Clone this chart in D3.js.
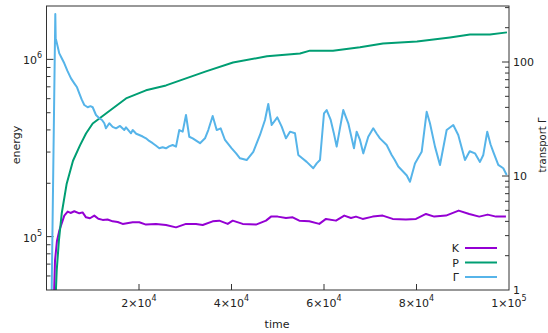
<!DOCTYPE html>
<html>
<head>
<meta charset="utf-8">
<script src="https://cdn.jsdelivr.net/npm/d3@7"></script>
<style>
	body { margin: 0; background: #fff; }
	text { font-family: "DejaVu Sans", Verdana, sans-serif; fill: #222; }
</style>
</head>
<body>
<svg id="chart" width="548" height="333"></svg>
<script>

// series K (kinetic energy), left axis
var kTime = [1405, 1838, 2270, 2767, 3848, 4583, 5200, 6010, 7091, 7800, 8540, 9400,
	10335, 11200, 12150, 13200, 14310, 15400, 16470, 18640, 20060, 21510, 23670,
	25840, 28000, 30160, 32320, 33770, 35930, 37360, 39180, 40260, 42420, 45290,
	47460, 48540, 49990, 51780, 53230, 54660, 56820, 58980, 60430, 62590, 64390,
	65830, 66910, 68360, 70520, 72690, 74850, 77720, 79890, 82050, 83840, 86370,
	89120, 91410, 93570, 95390, 97180, 99340];
var kValues = [3.0e4, 7.32e4, 9.49e4, 1.081e5, 1.314e5, 1.384e5, 1.36e5, 1.39e5,
	1.354e5, 1.37e5, 1.285e5, 1.27e5, 1.314e5, 1.26e5, 1.243e5, 1.25e5, 1.22e5,
	1.21e5, 1.18e5, 1.205e5, 1.205e5, 1.169e5, 1.18e5, 1.164e5, 1.128e5, 1.18e5,
	1.18e5, 1.164e5, 1.22e5, 1.231e5, 1.18e5, 1.231e5, 1.18e5, 1.169e5, 1.231e5,
	1.297e5, 1.297e5, 1.275e5, 1.285e5, 1.231e5, 1.22e5, 1.18e5, 1.259e5, 1.231e5,
	1.314e5, 1.275e5, 1.297e5, 1.259e5, 1.297e5, 1.314e5, 1.259e5, 1.248e5, 1.259e5,
	1.343e5, 1.297e5, 1.314e5, 1.402e5, 1.343e5, 1.297e5, 1.331e5, 1.297e5, 1.297e5];

// series P, left axis
var pTime = [1800, 2205, 2700, 3286, 4367, 5730, 7240, 8540, 9990, 12860, 17190,
	21510, 25840, 30160, 34480, 40320, 47670, 54810, 56970, 61940, 67780, 72750,
	80100, 87240, 91560, 95880, 99560];
var pValues = [3.5e4, 6.43e4, 9.6e4, 1.35e5, 1.99e5, 2.68e5, 3.27e5, 3.82e5, 4.35e5,
	4.95e5, 6.02e5, 6.69e5, 7.13e5, 7.81e5, 8.56e5, 9.61e5, 1.04e6, 1.08e6, 1.12e6,
	1.12e6, 1.17e6, 1.23e6, 1.26e6, 1.33e6, 1.38e6, 1.38e6, 1.42e6];

// series Gamma (transport), right axis
var gTime = [1124, 1903, 1989, 2767, 3300, 3848, 4500, 5297, 6010, 6600, 7091,
	7600, 8172, 8907, 9500, 9988, 10700, 11420, 12000, 12500, 12860, 13580, 14300,
	15030, 15900, 16820, 17190, 18270, 18640, 19400, 20060, 20800, 21510, 22200,
	22960, 23700, 24390, 25100, 25840, 26500, 27280, 28000, 28710, 29450, 30160,
	30870, 31610, 32690, 33190, 34270, 34980, 35930, 36800, 37660, 38590, 40040,
	41000, 41840, 43280, 44710, 46160, 47240, 47950, 48690, 49900, 50850, 51780,
	52650, 53730, 54440, 55300, 56260, 57680, 58420, 59130, 60000, 60580, 61450,
	62100, 62740, 63500, 64170, 65250, 66480, 67060, 67780, 68490, 69570, 70650,
	71400, 72100, 73550, 74630, 75300, 76060, 77140, 77900, 78590, 79670, 81120,
	82200, 82910, 84000, 85080, 86520, 87950, 89030, 89800, 90480, 91500, 92640,
	93720, 94440, 95300, 96000, 96600, 97680, 98760, 99500];
var gValues = [1, 264, 162, 119, 108, 97.4, 84, 71.9, 65.0, 60, 53.1,
	47, 42.0, 40.1, 41, 40.1, 34.3, 32.1, 31, 29.0, 26.2, 29.0, 27,
	26.2, 27.5, 25.3, 26.7, 23.7, 25.3, 23.5, 22.9, 22.2, 21.4, 20.3,
	19.4, 18.4, 17.5, 17.9, 17.5, 18.2, 18.7, 18.1, 25.3, 24.5, 34.3,
	22.1, 21.4, 20.0, 19.4, 21.4, 25.3, 33.6, 25.3, 26.2, 20.7, 17.5,
	15.8, 14.3, 13.8, 16.3, 22.9, 31.0, 42.8, 28.0, 32.7, 27.1, 21.4,
	24.5, 23.7, 15.3, 14.3, 13.3, 11.7, 12.9, 13.8, 35.5, 37.9, 31.0,
	24, 18.1, 27, 37.9, 29.0, 17.5, 24.5, 20.7, 15.8, 22.1, 26.2,
	23.5, 21.4, 18.7, 15.3, 13.8, 12.1, 10.9, 10.1, 8.9, 12.9, 16.3,
	36.6, 29.0, 18.1, 12.5, 25.3, 28.0, 22.9, 17.5, 13.8, 16.5, 15.8,
	13.3, 15.3, 24.5, 19, 16.3, 12.5, 11.7, 10.2];

var xTicks = [2e4, 4e4, 6e4, 8e4, 1e5];
var xTickLabels = [["2×10", "4"], ["4×10", "4"], ["6×10", "4"], ["8×10", "4"], ["1×10", "5"]];
var yTicks = [1e5, 1e6];
var yTickLabels = [["10", "5"], ["10", "6"]];
var y2Ticks = [1, 10, 100];
var y2TickLabels = ["1", "10", "100"];

var seriesNames = ["K", "P", "Γ"];
var seriesColours = ["#9400d3", "#009e73", "#56b4e9"];

var LEFT = 46.5, RIGHT = 509, TOP = 6, BOTTOM = 290;

var svg = d3.select("#chart");

var x = d3.scaleLinear().domain([0, 1e5]).range([LEFT, RIGHT]);
var y = d3.scaleLog().domain([5e4, 2e6]).range([BOTTOM, TOP]);
var y2 = d3.scaleLog().domain([1, 310]).range([BOTTOM, TOP]);

svg.append("clipPath").attr("id", "plotClip")
	.append("rect")
	.attr("x", LEFT).attr("y", TOP)
	.attr("width", RIGHT - LEFT).attr("height", BOTTOM - TOP);

// minor ticks for the log axes
function logTicks(lo, hi) {
	var out = [];
	for (var e = Math.floor(Math.log10(lo)); e <= Math.ceil(Math.log10(hi)); e++) {
		for (var m = 1; m < 10; m++) {
			var v = m * Math.pow(10, e);
			if (v > lo * 1.001 && v < hi * 0.999) out.push({ v: v, major: m == 1 });
		}
	}
	return out;
}

var axisColour = "#333";

svg.selectAll(".ytick")
	.data(logTicks(5e4, 2e6))
	.enter().append("line")
	.attr("x1", LEFT).attr("x2", function(d) { return LEFT + (d.major ? 7 : 4); })
	.attr("y1", function(d) { return y(d.v); })
	.attr("y2", function(d) { return y(d.v); })
	.attr("stroke", axisColour);

svg.selectAll(".y2tick")
	.data(logTicks(1, 310))
	.enter().append("line")
	.attr("x1", RIGHT).attr("x2", function(d) { return RIGHT - (d.major ? 7 : 4); })
	.attr("y1", function(d) { return y2(d.v); })
	.attr("y2", function(d) { return y2(d.v); })
	.attr("stroke", axisColour);

svg.selectAll(".xtick")
	.data(xTicks.slice(0, 4))
	.enter().append("line")
	.attr("x1", function(d) { return x(d); })
	.attr("x2", function(d) { return x(d); })
	.attr("y1", BOTTOM).attr("y2", BOTTOM - 6)
	.attr("stroke", axisColour);

// tick labels
var yl = svg.selectAll(".ylabel")
	.data(yTicks)
	.enter().append("text")
	.attr("x", 42)
	.attr("y", function(d) { return y(d) + 5; })
	.attr("text-anchor", "end")
	.style("font-size", "11px");
yl.append("tspan").text(function(d, i) { return yTickLabels[i][0]; });
yl.append("tspan").attr("dy", -6).style("font-size", "8px")
	.text(function(d, i) { return yTickLabels[i][1]; });

svg.selectAll(".y2label")
	.data(y2Ticks)
	.enter().append("text")
	.attr("x", 513)
	.attr("y", function(d) { return y2(d) + 4; })
	.style("font-size", "11px")
	.text(function(d, i) { return y2TickLabels[i]; });

var xl = svg.selectAll(".xlabel")
	.data(xTicks)
	.enter().append("text")
	.attr("x", function(d) { return x(d); })
	.attr("y", 307)
	.attr("text-anchor", "middle")
	.style("font-size", "11px");
xl.append("tspan").text(function(d, i) { return xTickLabels[i][0]; });
xl.append("tspan").attr("dy", -6).style("font-size", "8px")
	.text(function(d, i) { return xTickLabels[i][1]; });

// axis titles
svg.append("text")
	.attr("transform", "translate(20,145) rotate(-90)")
	.attr("text-anchor", "middle")
	.style("font-size", "11px")
	.text("energy");

svg.append("text")
	.attr("transform", "translate(546,145) rotate(-90)")
	.attr("text-anchor", "middle")
	.style("font-size", "10px")
	.text("transport Γ");

svg.append("text")
	.attr("x", 277).attr("y", 328)
	.attr("text-anchor", "middle")
	.style("font-size", "11px")
	.text("time");

// the three curves
var series = [
	{ t: kTime, v: kValues, scale: y },
	{ t: pTime, v: pValues, scale: y },
	{ t: gTime, v: gValues, scale: y2 }
];

var plot = svg.append("g").attr("clip-path", "url(#plotClip)");

series.forEach(function(s, i) {
	var line = d3.line()
		.x(function(d, j) { return x(s.t[j]); })
		.y(function(d) { return s.scale(d); });
	plot.append("path")
		.attr("d", line(s.v))
		.attr("fill", "none")
		.attr("stroke", seriesColours[i])
		.attr("stroke-width", 2)
		.attr("stroke-linejoin", "round");
});

// legend
var legend = svg.selectAll(".legend")
	.data(seriesNames)
	.enter().append("g")
	.attr("transform", function(d, i) { return "translate(0," + (248 + i * 14.5) + ")"; });

legend.append("text")
	.attr("x", 459).attr("y", 4)
	.attr("text-anchor", "end")
	.style("font-size", "11px")
	.text(function(d) { return d; });

legend.append("line")
	.attr("x1", 465).attr("x2", 497)
	.attr("stroke", function(d, i) { return seriesColours[i]; })
	.attr("stroke-width", 2);

// frame
svg.append("rect")
	.attr("x", LEFT).attr("y", TOP)
	.attr("width", RIGHT - LEFT).attr("height", BOTTOM - TOP)
	.attr("fill", "none")
	.attr("stroke", axisColour);

</script>
</body>
</html>
